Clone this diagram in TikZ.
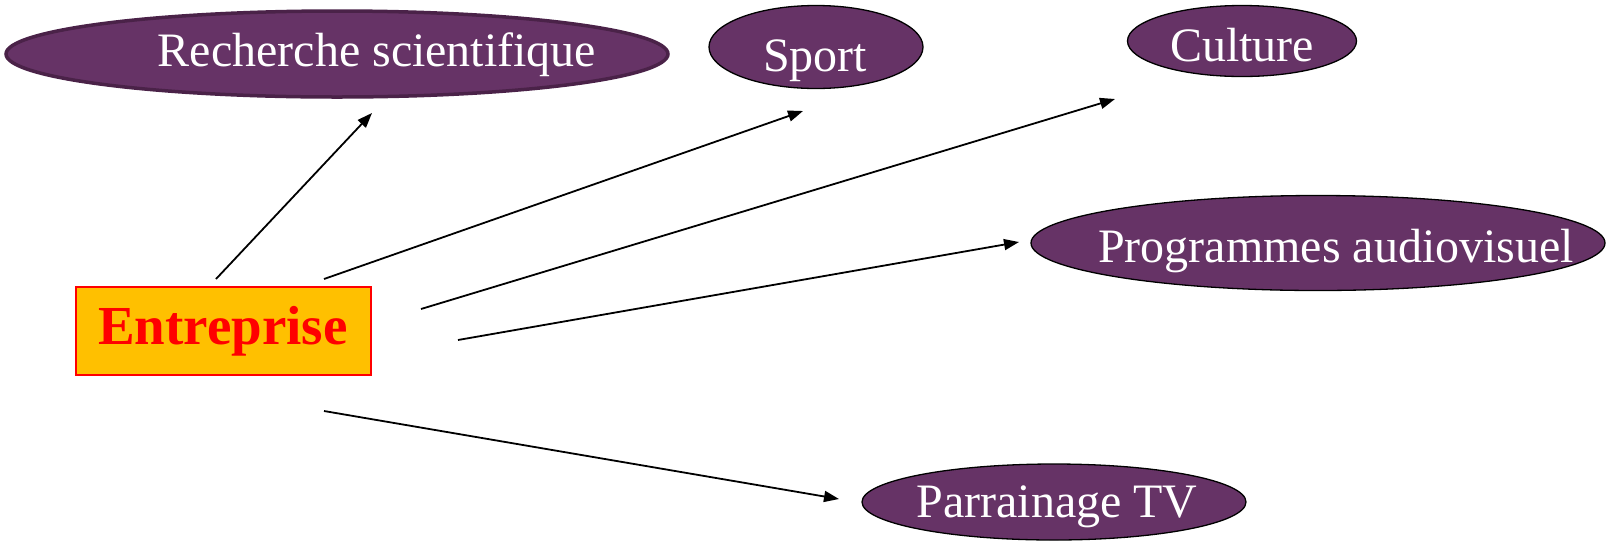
\documentclass[tikz,border=0pt]{standalone}
\usepackage{fontspec}
\setmainfont{Liberation Serif}
\usetikzlibrary{shapes.geometric,arrows.meta}
\definecolor{plum}{HTML}{663366}
\definecolor{plumdark}{HTML}{4A2248}
\definecolor{gold}{HTML}{FFC000}
\tikzset{
  ell/.style={ellipse, draw=black, line width=1.3pt, fill=plum, inner sep=0pt},
  lbl/.style={text=white, font=\fontsize{48}{52}\selectfont, inner sep=0pt},
  conn/.style={line width=1.8pt, -{Triangle[length=15pt,width=11pt]}},
  boxstyle/.style={draw=red, line width=2pt, fill=gold, text=red, inner sep=0pt,
    font=\fontsize{55}{60}\selectfont\bfseries}
}
\begin{document}
\begin{tikzpicture}[x=1pt,y=-1pt]
\useasboundingbox (0,0) rectangle (1609,542);
% ellipses
\node[ell, draw=plumdark, line width=3.5pt, minimum width=662pt, minimum height=86pt] (rs) at (337,54) {};
\node[lbl] (rst) at (377,55) {Recherche scientifique};
\node[ell, minimum width=214pt, minimum height=83pt] (sp) at (816,47) {};
\node[lbl] (spt) at (815,61) {Sport};
\node[ell, minimum width=229pt, minimum height=71pt] (cu) at (1242,41) {};
\node[lbl] (cut) at (1242,45) {Culture};
\node[ell, minimum width=574pt, minimum height=95pt] (pa) at (1318,243) {};
\node[lbl] (pat) at (1336,251) {Programmes audiovisuel};
\node[ell, minimum width=384pt, minimum height=76pt] (tv) at (1054,502) {};
\node[lbl] (tvt) at (1057,507) {Parrainage TV};
% box
\node[boxstyle, minimum width=295pt, minimum height=88pt] (ent) at (223,331) {\raisebox{-3pt}{Entreprise}};
% connector ends
\coordinate (s1) at (216,279);
\coordinate (e1) at (372,113);
\coordinate (s2) at (324,279);
\coordinate (e2) at (803,111);
\coordinate (s3) at (421,309);
\coordinate (e3) at (1115,99);
\coordinate (s4) at (458,340);
\coordinate (e4) at (1019,242);
\coordinate (s5) at (324,411);
\coordinate (e5) at (839,499);
\draw[conn] (s1) -- (e1);
\draw[conn] (s2) -- (e2);
\draw[conn] (s3) -- (e3);
\draw[conn] (s4) -- (e4);
\draw[conn] (s5) -- (e5);
\end{tikzpicture}
\end{document}
